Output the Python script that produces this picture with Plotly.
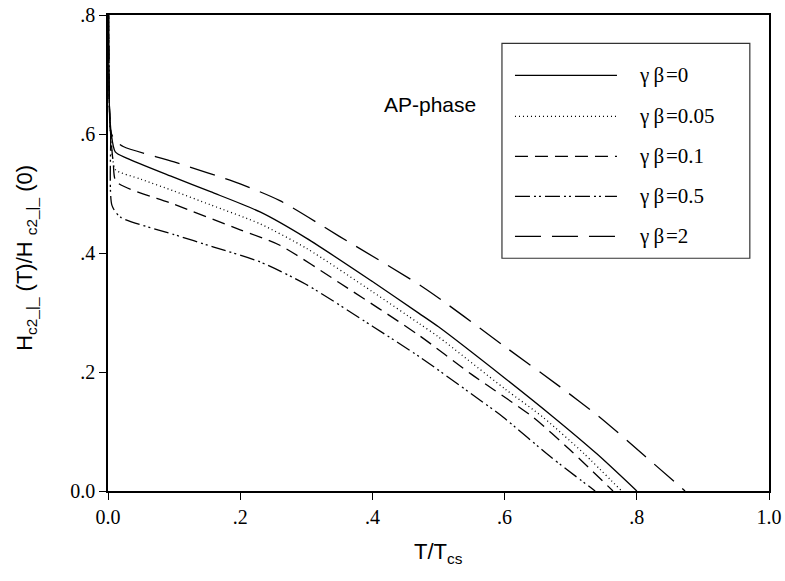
import plotly.graph_objects as go

# ---- data ----
names = ["γ\u2009β\u200a=0", "γ\u2009β\u200a=0.05", "γ\u2009β\u200a=0.1", "γ\u2009β\u200a=0.5", "γ\u2009β\u200a=2"]

x_g0 = [0.0005, 0.002, 0.005, 0.011, 0.029, 0.1, 0.155, 0.23, 0.3, 0.4, 0.47, 0.5, 0.6, 0.674, 0.74, 0.8]
y_g0 = [0.95, 0.65, 0.600, 0.570, 0.559, 0.527, 0.503, 0.469, 0.425, 0.352, 0.299, 0.276, 0.19, 0.124, 0.062, 0.0]

x_g005 = [0.0005, 0.002, 0.004, 0.007, 0.0113, 0.05, 0.1, 0.155, 0.23, 0.3, 0.4, 0.47, 0.5, 0.6, 0.658, 0.72, 0.777]
y_g005 = [0.95, 0.65, 0.60, 0.56, 0.540, 0.524, 0.504, 0.481, 0.449, 0.408, 0.335, 0.282, 0.259, 0.172, 0.124, 0.063, 0.0]

x_g01 = [0.0005, 0.002, 0.004, 0.008, 0.0125, 0.1, 0.2, 0.26, 0.35, 0.47, 0.55, 0.643, 0.70, 0.764]
y_g01 = [0.95, 0.65, 0.60, 0.55, 0.520, 0.482, 0.439, 0.413, 0.35, 0.262, 0.196, 0.124, 0.068, 0.0]

x_g05 = [0.0005, 0.002, 0.004, 0.006, 0.0186, 0.1, 0.16, 0.23, 0.3, 0.4, 0.472, 0.55, 0.598, 0.67, 0.737]
y_g05 = [0.95, 0.65, 0.60, 0.48, 0.4605, 0.431, 0.41, 0.385, 0.347, 0.277, 0.225, 0.163, 0.124, 0.057, 0.0]

x_g2 = [0.0005, 0.002, 0.004, 0.01, 0.023, 0.1, 0.2, 0.26, 0.35, 0.48, 0.6, 0.684, 0.744, 0.81, 0.873]
y_g2 = [0.95, 0.65, 0.605, 0.59, 0.579, 0.553, 0.516, 0.488, 0.428, 0.34, 0.243, 0.175, 0.124, 0.061, 0.0]

x_tickvals = [0.0, 0.2, 0.4, 0.6, 0.8, 1.0]
x_ticktext = ["0.0", ".2", ".4", ".6", ".8", "1.0"]
y_tickvals = [0.0, 0.2, 0.4, 0.6, 0.8]
y_ticktext = ["0.0", ".2", ".4", ".6", ".8"]

series = [(x_g0, y_g0), (x_g005, y_g005), (x_g01, y_g01), (x_g05, y_g05), (x_g2, y_g2)]
dashes = ["solid", "1px,3px", "13px,7px", "15px,4px,2px,3px,2px,4px", "26px,11px"]

fig = go.Figure()
for (xs, ys), nm, ds in zip(series, names, dashes):
    fig.add_trace(go.Scatter(x=xs, y=ys, mode="lines", name=nm,
                             line=dict(color="black", width=1.3, dash=ds, shape="spline", smoothing=0.7),
                             showlegend=False))

# custom legend box
fig.add_shape(type="rect", xref="paper", yref="paper", x0=0.596, x1=0.971, y0=0.489, y1=0.9405,
              line=dict(color="#333333", width=1.2), fillcolor="rgba(0,0,0,0)")
row_y = [0.8733, 0.7872, 0.7032, 0.6191, 0.5351]
for nm, ds, ry in zip(names, dashes, row_y):
    fig.add_shape(type="line", xref="paper", yref="paper", x0=0.6157, x1=0.770, y0=ry, y1=ry,
                  line=dict(color="black", width=1.3, dash=ds))
    fig.add_annotation(xref="paper", yref="paper", x=0.800, y=ry, text=nm, showarrow=False,
                       xanchor="left", yanchor="middle",
                       font=dict(family="Liberation Serif", size=21, color="black"))

fig.add_annotation(xref="paper", yref="paper", x=0.4148, y=0.8124, text="AP-phase", showarrow=False,
                   xanchor="left", yanchor="middle",
                   font=dict(family="Liberation Sans", size=21, color="black"))

# axis titles
fig.add_annotation(xref="paper", yref="paper", x=0.5, y=-0.13, text="T/T<sub>cs</sub>", showarrow=False,
                   xanchor="center", yanchor="middle",
                   font=dict(family="Liberation Sans", size=22, color="black"))
fig.add_annotation(xref="paper", yref="paper", x=-0.124, y=0.49,
                   text="H<sub>c2_|_</sub> (T)/H <sub>c2_|_</sub> (0)", showarrow=False, textangle=-90,
                   xanchor="center", yanchor="middle",
                   font=dict(family="Liberation Sans", size=22, color="black"))

axis_common = dict(showline=True, linecolor="black", linewidth=1.5, mirror=True,
                   ticks="outside", ticklen=7, tickwidth=1.3, tickcolor="black",
                   showgrid=False, zeroline=False, automargin=False,
                   tickfont=dict(family="Liberation Serif", size=20, color="black"))
fig.update_xaxes(range=[0, 1], tickvals=x_tickvals, ticktext=x_ticktext, **axis_common)
fig.update_yaxes(range=[0, 0.8], tickvals=y_tickvals, ticktext=y_ticktext, **axis_common)

fig.update_layout(width=785, height=581, margin=dict(l=108, r=16, t=15, b=90),
                  plot_bgcolor="white", paper_bgcolor="white")
fig.write_html("out.html")
